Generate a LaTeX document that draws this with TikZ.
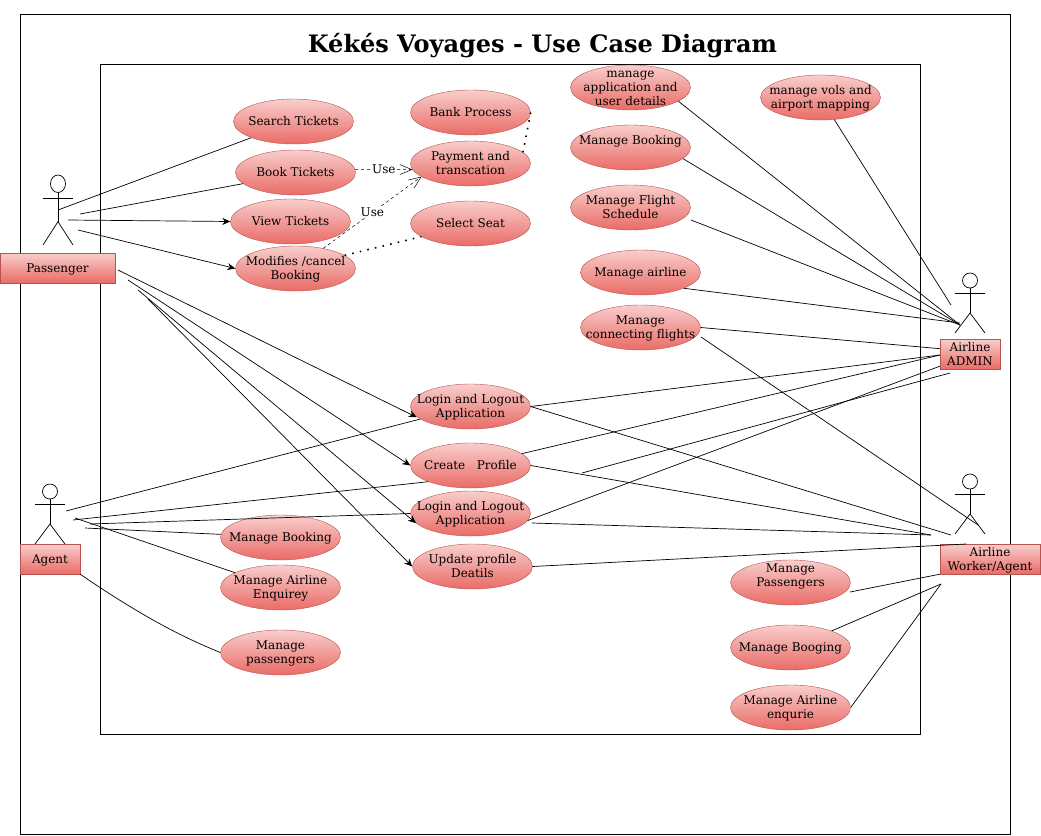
\documentclass[tikz,border=0pt]{standalone}
\usepackage{fontspec}
\setmainfont{DejaVu Serif}
\usetikzlibrary{shapes.geometric,arrows.meta}
\definecolor{ucTop}{HTML}{F8CECC}
\definecolor{ucBot}{HTML}{EA6B66}
\definecolor{ucLine}{HTML}{B85450}
\tikzset{
  x=1pt,y=-1pt,
  ucase/.style={ellipse,draw=ucLine,top color=ucTop,bottom color=ucBot,minimum width=120pt,minimum height=45pt,inner sep=0pt,xshift=0.5pt,yshift=-0.5pt,font=\fontsize{12}{14}\selectfont},
  rolebox/.style={rectangle,draw=ucLine,top color=ucTop,bottom color=ucBot,minimum height=30pt,inner sep=0pt,align=center,font=\fontsize{12}{14}\selectfont},
  frame/.style={draw=black,line width=0.8pt},
  assoc/.style={draw=black,line width=0.7pt},
  assocarrow/.style={assoc,-{Stealth[length=8pt,width=7pt]}},
  useline/.style={draw=black,line width=0.5pt,dash pattern=on 3pt off 3pt,-{Straight Barb[length=12pt,width=14pt,angle'=45]}},
  dotline/.style={draw=black,line width=1.6pt,dash pattern=on 1.6pt off 6.2pt},
  uselabel/.style={fill=white,inner sep=1pt,font=\fontsize{12}{14}\selectfont},
  stick/.style={draw=black,line width=0.7pt}
}
\newcommand{\uct}[1]{\smash{\makebox[0pt]{\raisebox{-4.4pt}{\begin{tabular}{@{}c@{}}#1\end{tabular}}}}}
\newcommand{\stickman}[4]{% x y w h
  \draw[stick] ({#1+#3/2},{#2+#4/8}) ellipse [x radius={#3/4},y radius={#4/8}];
  \draw[stick] ({#1+#3/2},{#2+#4/4}) -- ({#1+#3/2},{#2+2*#4/3});
  \draw[stick] (#1,{#2+#4/3}) -- ({#1+#3},{#2+#4/3});
  \draw[stick] (#1,{#2+#4}) -- ({#1+#3/2},{#2+2*#4/3}) -- ({#1+#3},{#2+#4});
}
\begin{document}
\begin{tikzpicture}
\useasboundingbox (0,0) rectangle (1041,835);
\draw[frame] (20.5,14.5) rectangle (1010.5,834.5);
\draw[frame] (100.5,64.5) rectangle (920.5,734.5);
\node[font=\fontsize{24}{28}\selectfont\bfseries] (title) at (542.5,46) {Kékés Voyages - Use Case Diagram};

\stickman{43}{175}{30}{70}
\stickman{35}{484}{30}{60}
\stickman{955}{273}{30}{60}
\stickman{955}{474}{30}{60}

\node[rolebox,minimum width=115pt] (passenger) at (57.5,268) {\uct{Passenger}};
\node[rolebox,minimum width=60pt] (agent) at (50,559) {\uct{Agent}};
\node[rolebox,minimum width=60pt] (admin) at (970,354) {\uct{Airline\\ADMIN}};
\node[rolebox,minimum width=100pt] (worker) at (990,559) {\uct{Airline\\Worker/Agent}};

\node[ucase] (search) at (293,121) {\uct{Search Tickets}};
\node[ucase] (book) at (295,172) {\uct{Book Tickets}};
\node[ucase] (view) at (290,221) {\uct{View Tickets}};
\node[ucase] (modify) at (295,268) {\uct{Modifies /cancel\\Booking}};
\node[ucase] (bank) at (470,112) {\uct{Bank Process}};
\node[ucase] (pay) at (470,163) {\uct{Payment and\\transcation}};
\node[ucase] (seat) at (470,223) {\uct{Select Seat}};
\node[ucase] (mapp) at (630,87) {\uct{manage\\application and\\user details}};
\node[ucase] (mbook) at (630,147) {\uct{Manage Booking\\ \mbox{}}};
\node[ucase] (mflight) at (630,207) {\uct{Manage Flight\\Schedule}};
\node[ucase] (mair) at (640,272) {\uct{Manage airline}};
\node[ucase] (mconn) at (640,327) {\uct{Manage\\connecting flights}};
\node[ucase] (mvols) at (820,97) {\uct{manage vols and\\airport mapping}};
\node[ucase] (login) at (470,406) {\uct{Login and Logout\\Application}};
\node[ucase] (create) at (470,465) {\uct{Create \ \ Profile}};
\node[ucase] (logintwo) at (470,513) {\uct{Login and Logout\\Application}};
\node[ucase] (update) at (472,566) {\uct{Update profile\\Deatils}};
\node[ucase] (abook) at (280,537) {\uct{Manage Booking}};
\node[ucase] (aenq) at (280,587) {\uct{Manage Airline\\Enquirey}};
\node[ucase] (apass) at (280,652) {\uct{Manage\\passengers}};
\node[ucase] (wpass) at (790,582) {\uct{Manage\\Passengers\\ \mbox{}}};
\node[ucase] (wbook) at (790,647) {\uct{Manage Booging}};
\node[ucase] (wenq) at (790,707) {\uct{Manage Airline\\enqurie}};

% free ends
\coordinate (p1) at (58,210);
\coordinate (p2) at (80,214);
\coordinate (p3) at (68,220);
\coordinate (p4) at (78,230);
\coordinate (p5) at (118,270);
\coordinate (p6) at (128,280);
\coordinate (p7) at (138,290);
\coordinate (p8) at (148,299);
\coordinate (g1) at (66,511);
\coordinate (g2) at (73,520);
\coordinate (g3) at (90,524);
\coordinate (g4) at (85,528);
\coordinate (g5) at (75,518);
\coordinate (fs) at (691,220);
\coordinate (cs) at (701,337);
\coordinate (ls) at (532,523);
\coordinate (ps) at (850,592);
\coordinate (ad) at (960,325);
\coordinate (adb) at (960,323);
\coordinate (adv) at (951,305);
\coordinate (ada) at (940,355);
\coordinate (adl) at (950,373);
\coordinate (ads) at (582,473);
\coordinate (wk) at (951,535);
\coordinate (wkb) at (931,535);
\coordinate (wkc) at (978,525);
\coordinate (wku) at (966,544);
\coordinate (wkl) at (941,584);

\draw[assoc] (p1) -- (search.201);
\draw[assoc] (p2) -- (book.192);
\draw[assocarrow] (p3) -- (view.west);
\draw[assocarrow] (p4) -- (modify.west);
\draw[assocarrow,shorten >=4pt] (p5) -- (login.194);
\draw[assocarrow] (p6) -- (create.west);
\draw[assocarrow] (p7) -- (logintwo.190);
\draw[assocarrow] (p8) -- (update.west);

\draw[assoc] (g1) -- (login.194);
\draw[assoc] (g2) -- (create.201);
\draw[assoc] (g3) -- (logintwo.west);
\draw[assoc] (g4) -- (abook.177);
\draw[assoc] (g5) -- (aenq.162);
\draw[assoc] (agent.south east) .. controls (150,622) and (190,640) .. (apass.west);

\draw[assoc] (mapp.-16) -- (ad);
\draw[assoc] (mbook.-12) -- (ad);
\draw[assoc] (fs) -- (ad);
\draw[assoc] (mair.-20) -- (adb);
\draw[assoc] (mconn.east) -- (admin.170);
\draw[assoc] (mvols.-58) -- (adv);
\draw[assoc] (cs) -- (wkc);
\draw[assoc] (login.east) -- (ada);
\draw[assoc] (create.13) -- (ada);
\draw[assoc] (ads) -- (adl);
\draw[assoc] (logintwo.-7) -- (admin.202);

\draw[assoc] (login.east) -- (wk);
\draw[assoc] (create.east) -- (wkb);
\draw[assoc] (ls) -- (wkb);
\draw[assoc] (update.east) -- (wku);
\draw[assoc] (ps) -- (worker.south west);
\draw[assoc] (wbook.22) -- (wkl);
\draw[assoc] (wenq.east) -- (wkl);

\draw[useline] (book.3) -- node[uselabel,pos=0.5] (useone) {Use} (pay.186);
\draw[useline] (modify.36) -- node[uselabel,pos=0.5] (usetwo) {Use} (pay.195);
\draw[dotline] (bank.east) -- (pay.12);
\draw[dotline] (modify.15) -- (seat.195);
\end{tikzpicture}
\end{document}
